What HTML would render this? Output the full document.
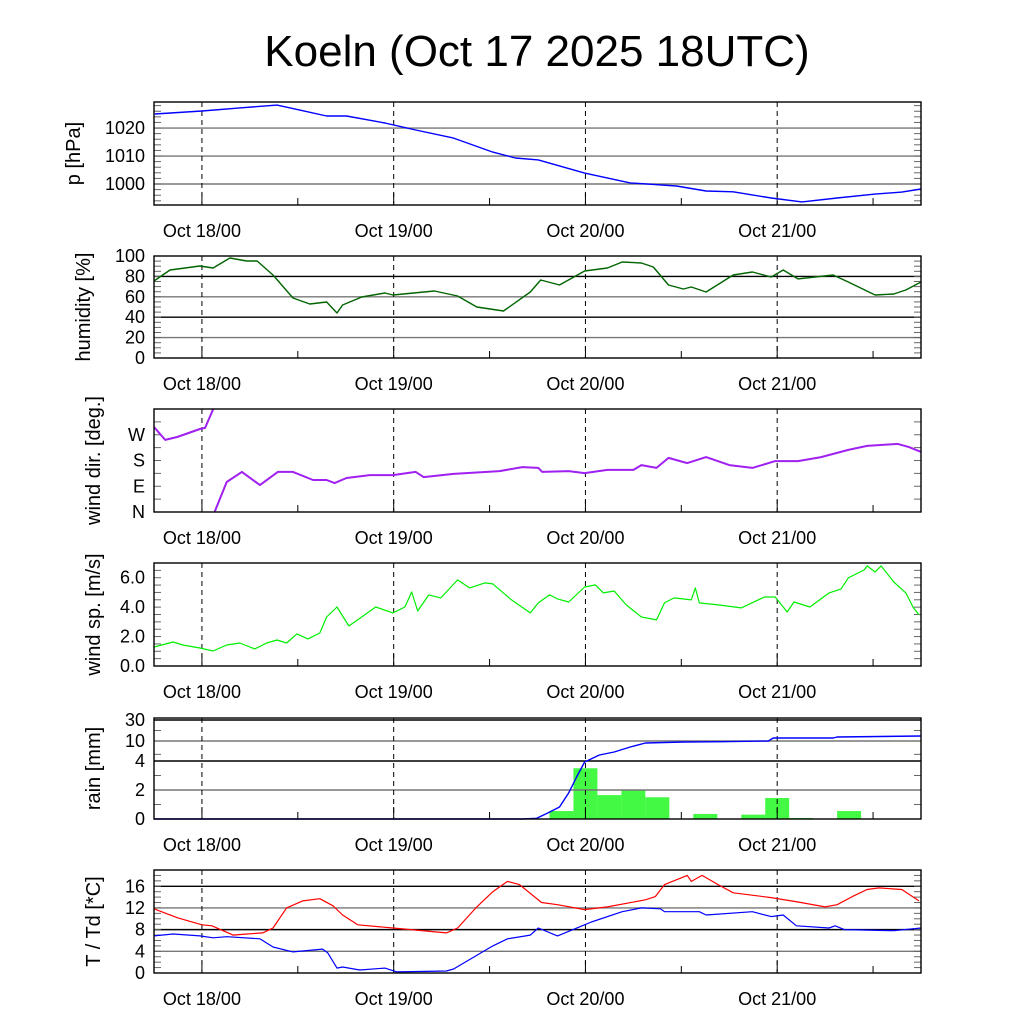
<!DOCTYPE html>
<html><head><meta charset="utf-8"><style>
html,body{margin:0;padding:0;background:#fff;}
svg{display:block;font-family:"Liberation Sans",sans-serif;}
</style></head><body>
<svg id="chart" width="1024" height="1024" viewBox="0 0 1024 1024">
<rect width="1024" height="1024" fill="#fff"/>
<text x="537" y="66" font-size="44" text-anchor="middle">Koeln (Oct 17 2025 18UTC)</text>
</svg>
<script>
// Data (hours since Oct 17 18UTC)
const dayLabels = ["Oct 18/00","Oct 19/00","Oct 20/00","Oct 21/00"];
const dayHours = [6,30,54,78];
const pH = [0.1,6,10.75,15.4,18.25,21.6,24.1,28.9,32.75,37.5,42.4,45.25,48.1,53.9,59.6,65.4,69.1,72.5,77.25,81.1,85.5,90.25,93.6,96];
const pV = [1025.0,1026.1,1027.2,1028.2,1026.4,1024.3,1024.3,1021.8,1019.3,1016.4,1011.4,1009.3,1008.6,1003.9,1000.4,999.3,997.5,997.2,995.0,993.6,995.0,996.4,997.1,998.2];
const humH = [0,2,5.75,7.4,9.5,11.6,12.9,14.9,17.4,19.5,21.6,22.9,23.6,26,28.9,29.9,35.1,38,40.4,43.75,47.1,48.4,50.75,53.9,56.75,58.6,61,62.5,64.4,66.25,67.25,69.1,72.5,74.9,77.25,78.75,80.6,85,86.9,90.25,92.6,94.1,96];
const humV = [75.5,86.3,90.2,88.2,98,95.1,95.1,81.4,58.8,52.9,54.9,44.1,52,59.8,63.7,61.8,65.7,60.8,50,46.1,64.7,76.5,71.6,85.3,88.2,94.1,93.1,89.2,71.6,67.6,69.6,64.7,81.4,84.3,79.4,86.3,77.5,81.4,74.5,61.8,62.7,66.7,74.5];
const dirH = [0,1.4,2.9,5.75,6.4,7.4,7.6,9.1,11,13.25,15.5,17.4,19.9,21.6,22.6,24.1,27,29.9,32.75,33.75,37.5,43.25,46.1,48.1,48.6,51.9,53.9,56.75,60,61,62.9,64.4,66.75,69.1,72,74.9,77.75,80.6,83.5,86.9,89.25,93.1,94.5,96];
const dirV = [297,252,262,290,294,359,1,105,140,94,140,140,112,112,101,119,129,129,140,122,133,143,157,154,140,143,136,147,147,164,154,189,171,192,164,154,178,178,192,217,231,238,227,210];
const wsH = [0,2.4,3.6,5.75,7.4,9.1,10.75,12.6,14.1,15.4,16.6,17.9,19.25,20.75,21.6,22.9,24.4,26,27.75,29.9,31.4,32.25,33,34.4,35.9,38,39.5,41.4,42.4,44.75,47.1,48.1,49.5,50.5,51.9,53.9,55.25,56.25,57.6,59.1,61,62.9,63.9,65.1,67.25,67.75,68.25,70.6,73.5,76.4,77.75,79.25,80.1,82.1,84.5,86,86.9,88.9,89.25,90.25,91,92.6,94.1,95,95.75];
const wsV = [1.29,1.63,1.43,1.22,1.02,1.43,1.56,1.16,1.56,1.77,1.56,2.18,1.84,2.24,3.33,4.01,2.72,3.33,4.01,3.61,4.01,5.03,3.74,4.83,4.63,5.85,5.31,5.65,5.58,4.49,3.61,4.29,4.83,4.56,4.35,5.37,5.51,4.97,5.10,4.15,3.33,3.13,4.29,4.63,4.49,5.31,4.29,4.15,3.95,4.69,4.69,3.67,4.35,4.01,4.97,5.24,5.99,6.53,6.80,6.39,6.80,5.71,4.97,4.01,3.47];
const rainBarH = [51,54,57,60,63,69,75,78,81,87];
const rainBarV = [0.55,3.5,1.65,2.0,1.5,0.35,0.3,1.45,0.07,0.55];
const rainCumH = [0,23.1,46.1,47.9,49.25,50.75,51.9,52.9,53.9,55.75,57.6,59.6,61.5,66.25,71.1,76.9,77.5,85,85.5,96];
const rainCumV = [0,0,0,0.05,0.41,0.83,1.8,2.9,3.93,5.8,6.7,8.2,9.4,9.7,9.8,10,12.9,12.9,13.8,14.8];
const tH = [0,2.9,6,7.25,9.9,11.6,13.6,14.9,16.6,18.6,20.75,22.4,23.6,25.5,29.9,36.6,38,40.4,42.4,44.25,45.75,48.5,50.5,53.9,56.75,61.5,62.75,63.9,66.75,67.25,68.6,70.6,72.5,77.25,80.6,84,85.5,87.4,89.25,90.75,93.6,95.75];
const tV = [11.85,10.2,8.9,8.7,7.0,7.2,7.4,8.3,12.0,13.3,13.7,12.4,10.7,8.9,8.3,7.4,8.3,12.2,15.0,16.9,16.3,13.0,12.6,11.7,12.2,13.5,14.1,16.3,18.0,16.9,18.0,16.3,14.8,13.9,13.1,12.2,12.6,14.1,15.4,15.7,15.4,13.3];
const tdH = [0,2.4,5.75,7.4,9.1,13.25,14.9,17.4,21.1,21.75,22.9,23.6,25.75,28.9,30.4,36.6,37.5,42.4,44.25,47.1,48.1,50.5,53.9,54.75,58.6,61,63.4,63.9,68.25,69.1,74.9,77.25,78.75,80.4,84.5,85.25,86.4,92.6,96];
const tdV = [6.85,7.2,6.85,6.5,6.7,6.3,4.8,3.9,4.4,3.7,0.9,1.1,0.55,0.9,0.2,0.37,0.74,5.0,6.3,7.0,8.3,6.85,8.9,9.4,11.3,12.0,11.85,11.3,11.3,10.7,11.3,10.4,10.7,8.7,8.3,8.7,8.0,7.8,8.3];

const svg = document.getElementById('chart');
const NS = 'http://www.w3.org/2000/svg';
const L = 154, R = 921;
function X(h){ return L + h*(R-L)/96; }
function mk(tag, attrs){ const e = document.createElementNS(NS, tag); for (const k in attrs) e.setAttribute(k, attrs[k]); svg.appendChild(e); return e; }
function linScale(v0, v1, top, bot){ return v => bot - (v - v0)/(v1 - v0)*(bot - top); }
function pathFrom(hs, vs, Y){ return hs.map((h,i)=>(i?'L':'M')+X(h).toFixed(1)+' '+Y(vs[i]).toFixed(1)).join(''); }

function panel(cfg){
  const {top, bot, Y, ticks, minor, title, titleX, key} = cfg;
  ticks.forEach((t)=>{
    const y = Y(t.v);
    if (y > top+0.5 && y < bot-0.5) {
      const g = mk('line',{x1:L,x2:R,y1:y,y2:y,stroke:t.c||'#777','stroke-width':1.4});
      
      
    }
    const tx = mk('text',{x:145,y:y+6,'font-size':18,'text-anchor':'end'});
    tx.textContent = t.l;
    
    
  });
  minor.forEach(v=>{
    const y = Y(v);
    mk('line',{x1:L,x2:L+7,y1:y,y2:y,stroke:'#666','stroke-width':1});
    mk('line',{x1:R-7,x2:R,y1:y,y2:y,stroke:'#666','stroke-width':1});
  });
  dayHours.forEach((h,i)=>{
    const x = X(h);
    const d = mk('line',{x1:x,x2:x,y1:top,y2:bot,stroke:'#000','stroke-width':1,'stroke-dasharray':'5,4'});
    
    
    mk('line',{x1:x,x2:x,y1:bot-12,y2:bot,stroke:'#000','stroke-width':1});
    const lx = mk('text',{x:x,y:bot+32,'font-size':18,'text-anchor':'middle'});
    lx.textContent = dayLabels[i];
    
    
  });
  [18,42,66,90].forEach(h=>{ const x=X(h); mk('line',{x1:x,x2:x,y1:bot-7,y2:bot,stroke:'#000','stroke-width':1}); });
  const ty = (top+bot)/2;
  const tt = mk('text',{x:titleX,y:ty,'font-size':20,'text-anchor':'middle',transform:`rotate(-90 ${titleX} ${ty})`});
  tt.textContent = title;
  
  
}
function frame(top,bot,key){
  const f = mk('rect',{x:L,y:top,width:R-L,height:bot-top,fill:'none',stroke:'#000','stroke-width':1.4});
  
  
}
function series(hs,vs,Y,color,name,w){
  const p = mk('path',{d:pathFrom(hs,vs,Y),fill:'none',stroke:color,'stroke-width':w||1.4,'stroke-linejoin':'round'});
  
  
}
const range=(a,b,s)=>{const r=[];for(let v=a;v<=b+1e-9;v+=s)r.push(v);return r;};

// Pressure
{ const Y = linScale(992.5,1029.3,102,205);
  panel({top:102,bot:205,Y,key:'pressure',title:'p [hPa]',titleX:80,
    ticks:[{v:1000,l:'1000'},{v:1010,l:'1010'},{v:1020,l:'1020'}],minor:range(994,1028,2)});
  series(pH,pV,Y,'#0000ff','pressure-line'); frame(102,205,'pressure'); }
// Humidity
{ const Y = linScale(0,100,256,358);
  panel({top:256,bot:358,Y,key:'humidity',title:'humidity [%]',titleX:90,
    ticks:[{v:0,l:'0'},{v:20,l:'20',c:'#777'},{v:40,l:'40',c:'#000'},{v:60,l:'60',c:'#777'},{v:80,l:'80',c:'#000'},{v:100,l:'100'}],minor:range(5,95,5)});
  series(humH,humV,Y,'#006400','humidity-line'); frame(256,358,'humidity'); }
// Wind direction
{ const Y = linScale(0,360,409,512);
  panel({top:409,bot:512,Y,key:'wind-dir',title:'wind dir. [deg.]',titleX:100,
    ticks:[{v:0,l:'N'},{v:90,l:'E',c:'none'},{v:180,l:'S',c:'none'},{v:270,l:'W',c:'none'}],minor:range(45,315,45)});
  let seg=[[dirH[0],dirV[0]]];
  const segs=[seg];
  for(let i=1;i<dirH.length;i++){
    if(Math.abs(dirV[i]-dirV[i-1])>180){ seg=[]; segs.push(seg); }
    seg.push([dirH[i],dirV[i]]);
  }
  segs.forEach(s=>series(s.map(p=>p[0]),s.map(p=>p[1]),Y,'#a020f0','wind-direction-line',2));
  frame(409,512,'wind-dir'); }
// Wind speed
{ const Y = linScale(0,7.0,563,666);
  panel({top:563,bot:666,Y,key:'wind-speed',title:'wind sp. [m/s]',titleX:100,
    ticks:[{v:0,l:'0.0'},{v:2,l:'2.0',c:'none'},{v:4,l:'4.0',c:'none'},{v:6,l:'6.0',c:'none'}],minor:range(0.5,6.5,0.5)});
  series(wsH,wsV,Y,'#00ee00','wind-speed-line',1.2); frame(563,666,'wind-speed'); }
// Rain
{ const rv=[0,2,4,10,30], rp=[819,790,761,741,720];
  const Y = v=>{ for(let i=0;i<rv.length-1;i++){ if(v<=rv[i+1]) return rp[i]+(v-rv[i])/(rv[i+1]-rv[i])*(rp[i+1]-rp[i]); } return 720; };
  rainBarH.forEach((h,i)=>{
    const b = mk('rect',{x:X(h-1.5),y:Y(rainBarV[i]),width:X(h+1.5)-X(h-1.5),height:819-Y(rainBarV[i]),fill:'#44f944'});
    
    
  });
  panel({top:718,bot:819,Y,key:'rain',title:'rain [mm]',titleX:100,
    ticks:[{v:30,l:'30',c:'#000'},{v:10,l:'10',c:'#777'},{v:4,l:'4',c:'#000'},{v:2,l:'2',c:'#777'},{v:0,l:'0'}],minor:[1,3,6,20]});
  series(rainCumH,rainCumV,Y,'#0000ff','rain-cumulative-line'); frame(718,819,'rain'); }
// Temperature
{ const Y = linScale(0,19,870,973);
  panel({top:870,bot:973,Y,key:'temperature',title:'T / Td [*C]',titleX:100,
    ticks:[{v:16,l:'16',c:'#000'},{v:12,l:'12',c:'#777'},{v:8,l:'8',c:'#000'},{v:4,l:'4',c:'#777'},{v:0,l:'0'}],minor:range(1,18,1)});
  series(tH,tV,Y,'#ff0000','temperature-line',1.2);
  series(tdH,tdV,Y,'#0000ff','dewpoint-line',1.2); frame(870,973,'temperature'); }
</script>
</body></html>
